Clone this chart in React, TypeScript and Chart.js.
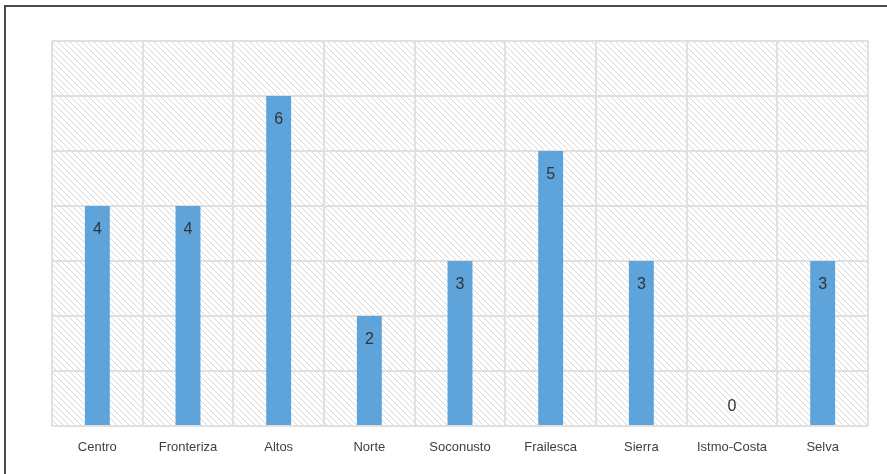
import React, { useEffect, useRef } from "react";
import { Chart, registerables } from "chart.js";

Chart.register(...registerables);

// Regions and their counts
const regions = [
  "Centro",
  "Fronteriza",
  "Altos",
  "Norte",
  "Soconusto",
  "Frailesca",
  "Sierra",
  "Istmo-Costa",
  "Selva",
];
const counts = [4, 4, 6, 2, 3, 5, 3, 0, 3];

const W = 887;
const H = 474;

// Diagonal hatch behind the plot, plus the outer frame lines
const backdropPlugin = {
  id: "backdrop",
  beforeDraw(chart: any) {
    const { ctx, chartArea } = chart;
    const { left, top, right, bottom } = chartArea;
    ctx.save();
    ctx.fillStyle = "#ffffff";
    ctx.fillRect(0, 0, W, H);

    ctx.beginPath();
    ctx.rect(left, top, right - left, bottom - top);
    ctx.clip();
    ctx.strokeStyle = "#d8d8d8";
    ctx.lineWidth = 1;
    const h = bottom - top;
    ctx.beginPath();
    for (let x = left - h; x < right + 6; x += 6) {
      ctx.moveTo(x, top);
      ctx.lineTo(x + h, bottom);
    }
    ctx.stroke();
    ctx.restore();

    ctx.save();
    ctx.strokeStyle = "#4a4a4a";
    ctx.lineWidth = 2;
    ctx.beginPath();
    ctx.moveTo(5, H + 2);
    ctx.lineTo(5, 6);
    ctx.lineTo(W + 2, 6);
    ctx.stroke();
    ctx.restore();
  },
};

// Value labels: inside the bar top, or just above the baseline for zero
const valueLabelPlugin = {
  id: "valueLabels",
  afterDatasetsDraw(chart: any) {
    const { ctx } = chart;
    const meta = chart.getDatasetMeta(0);
    const data = chart.data.datasets[0].data as number[];
    ctx.save();
    ctx.font = "16px 'Liberation Sans', Arial, sans-serif";
    ctx.fillStyle = "#333333";
    ctx.textAlign = "center";
    ctx.textBaseline = "middle";
    meta.data.forEach((bar: any, i: number) => {
      const v = data[i];
      const y = v === 0 ? bar.base - 19 : bar.y + 24;
      ctx.fillText(String(v), bar.x, y);
    });
    ctx.restore();
  },
};

export default function App() {
  const canvasRef = useRef<HTMLCanvasElement | null>(null);

  useEffect(() => {
    if (!canvasRef.current) return;
    const chart = new Chart(canvasRef.current, {
      type: "bar",
      data: {
        labels: regions,
        datasets: [
          {
            data: counts,
            backgroundColor: "#5ea3da",
            borderWidth: 0,
            barPercentage: 0.275,
            categoryPercentage: 1,
          },
        ],
      },
      options: {
        animation: false,
        responsive: false,
        maintainAspectRatio: false,
        layout: { padding: { left: 52, right: 19, top: 41, bottom: 0 } },
        plugins: {
          legend: { display: false },
          tooltip: { enabled: false },
        },
        scales: {
          x: {
            grid: { color: "#e0e0e0", lineWidth: 2, drawTicks: false },
            border: { display: false },
            ticks: {
              padding: 14,
              color: "#404040",
              font: { family: "'Liberation Sans', Arial, sans-serif", size: 13 },
            },
            afterFit(scale: any) {
              scale.height = 48;
            },
          },
          y: {
            min: 0,
            max: 7,
            ticks: { display: false, stepSize: 1 },
            grid: { color: "#e0e0e0", lineWidth: 2, drawTicks: false },
            border: { display: false },
            afterFit(scale: any) {
              scale.width = 0;
            },
          },
        },
      },
      plugins: [backdropPlugin, valueLabelPlugin],
    });
    return () => chart.destroy();
  }, []);

  return (
    <div style={{ position: "fixed", left: 0, top: 0, width: W, height: H, background: "#fff" }}>
      <canvas ref={canvasRef} width={W} height={H} style={{ display: "block" }} />
    </div>
  );
}
